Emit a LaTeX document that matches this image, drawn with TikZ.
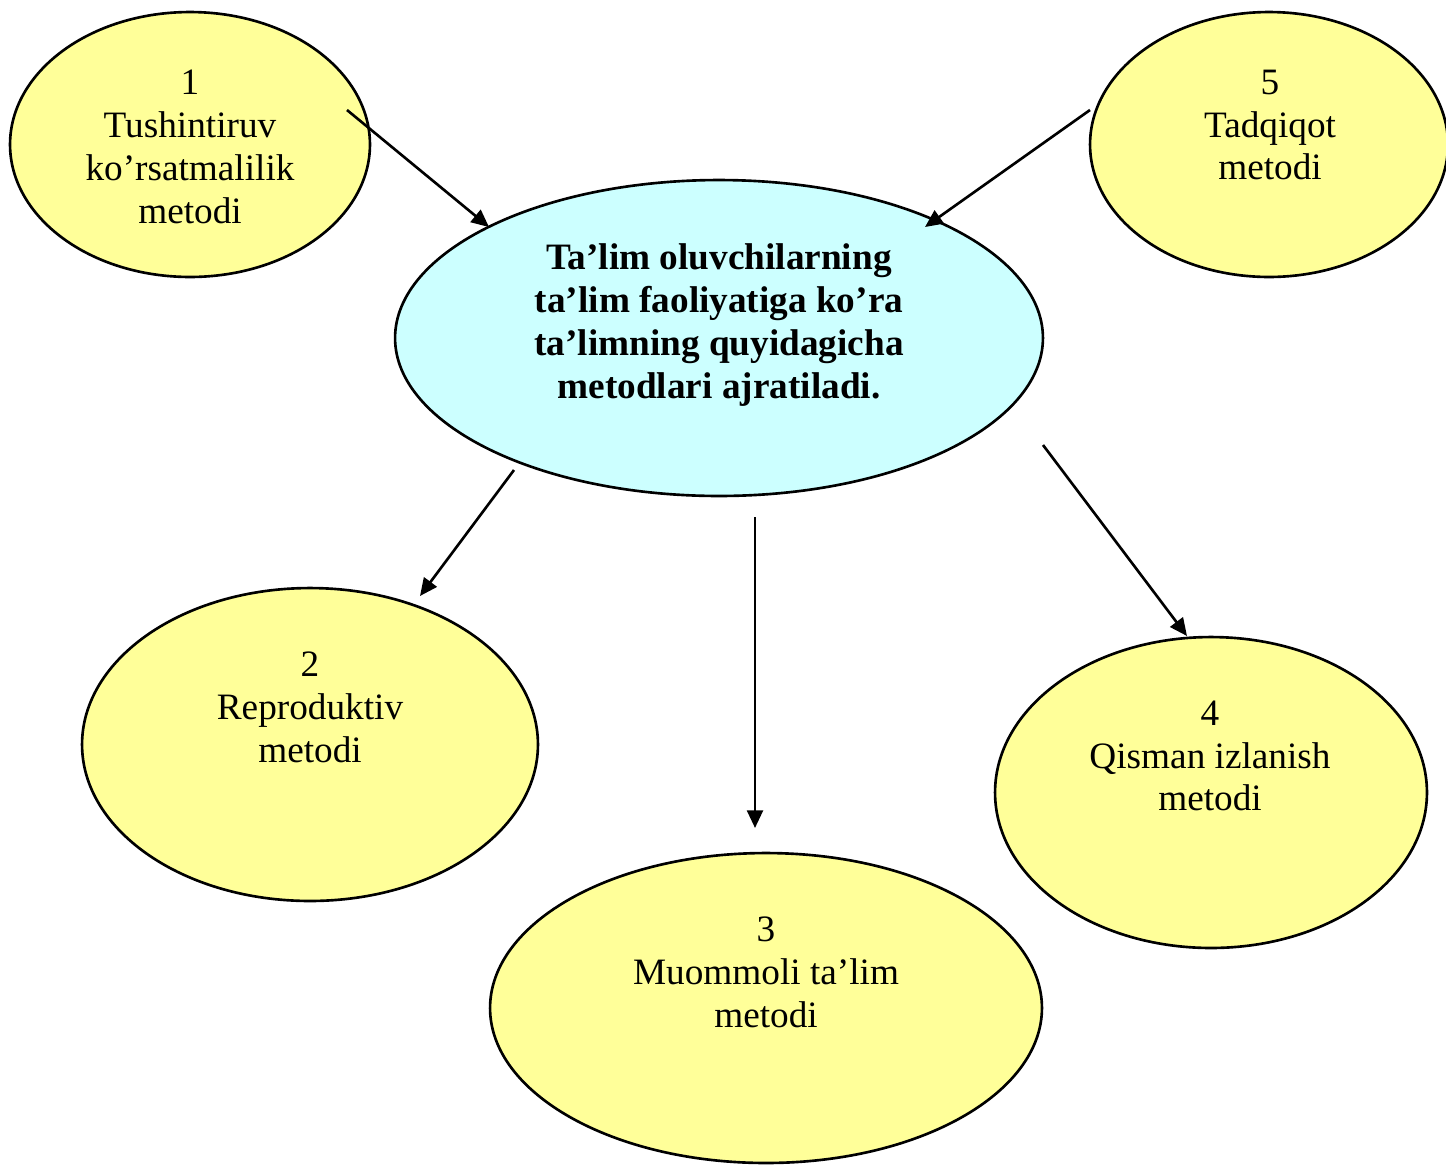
\documentclass[tikz,border=0pt]{standalone}
\usepackage{fontspec}
\setmainfont{Liberation Serif}
\usetikzlibrary{shapes.geometric, arrows.meta}
\definecolor{ovalyellow}{HTML}{FFFF99}
\definecolor{ovalcyan}{HTML}{CCFFFF}
\tikzstyle{oval} = [ellipse, draw=black, line width=1.5pt, fill=ovalyellow, inner sep=0pt]
\tikzstyle{lbl} = [align=center, inner sep=0pt, font=\fontsize{21.2}{24.4}\selectfont]
\tikzstyle{arrow} = [-{Triangle[length=10pt, width=9pt]}, line width=1.5pt]

\begin{document}
\begin{tikzpicture}[x=0.02cm, y=-0.02cm]

  \useasboundingbox (0,0) rectangle (1446,1164);

  \node[oval, minimum width=7.2cm, minimum height=5.3cm] (m1) at (190,144.5) {};
  \node[oval, minimum width=7.16cm, minimum height=5.3cm] (m5) at (1269,144.5) {};
  \node[oval, fill=ovalcyan, minimum width=12.96cm, minimum height=6.32cm] (ctr) at (719,338) {};
  \node[oval, minimum width=9.12cm, minimum height=6.26cm] (m2) at (310,744.5) {};
  \node[oval, minimum width=11.04cm, minimum height=6.2cm] (m3) at (766,1008) {};
  \node[oval, minimum width=8.64cm, minimum height=6.22cm] (m4) at (1211,792.5) {};

  \node[lbl] (t1) at (190,147) {1\\Tushintiruv\\ko’rsatmalilik\\metodi};
  \node[lbl] (t5) at (1270,125) {5\\Tadqiqot\\metodi};
  \node[lbl, font=\fontsize{21.2}{24.4}\selectfont\bfseries] (tc) at (719,325) {Ta’lim oluvchilarning\\ta’lim faoliyatiga ko’ra\\ta’limning quyidagicha\\metodlari ajratiladi.};
  \node[lbl] (t2) at (310,707) {2\\Reproduktiv\\metodi};
  \node[lbl] (t3) at (766,972) {3\\Muommoli ta’lim\\metodi};
  \node[lbl] (t4) at (1210,756) {4\\Qisman izlanish\\metodi};

  \coordinate (a1s) at (347,110);  \coordinate (a1e) at (489,227);
  \coordinate (a5s) at (1090,110); \coordinate (a5e) at (925,227);
  \coordinate (a2s) at (514,470);  \coordinate (a2e) at (420,596);
  \coordinate (a3s) at (755,517);  \coordinate (a3e) at (755,828);
  \coordinate (a4s) at (1043,445); \coordinate (a4e) at (1187,636);

  \draw[arrow] (a1s) -- (a1e);
  \draw[arrow] (a5s) -- (a5e);
  \draw[arrow] (a2s) -- (a2e);
  \draw[arrow] (a3s) -- (a3e);
  \draw[arrow] (a4s) -- (a4e);

\end{tikzpicture}
\end{document}
